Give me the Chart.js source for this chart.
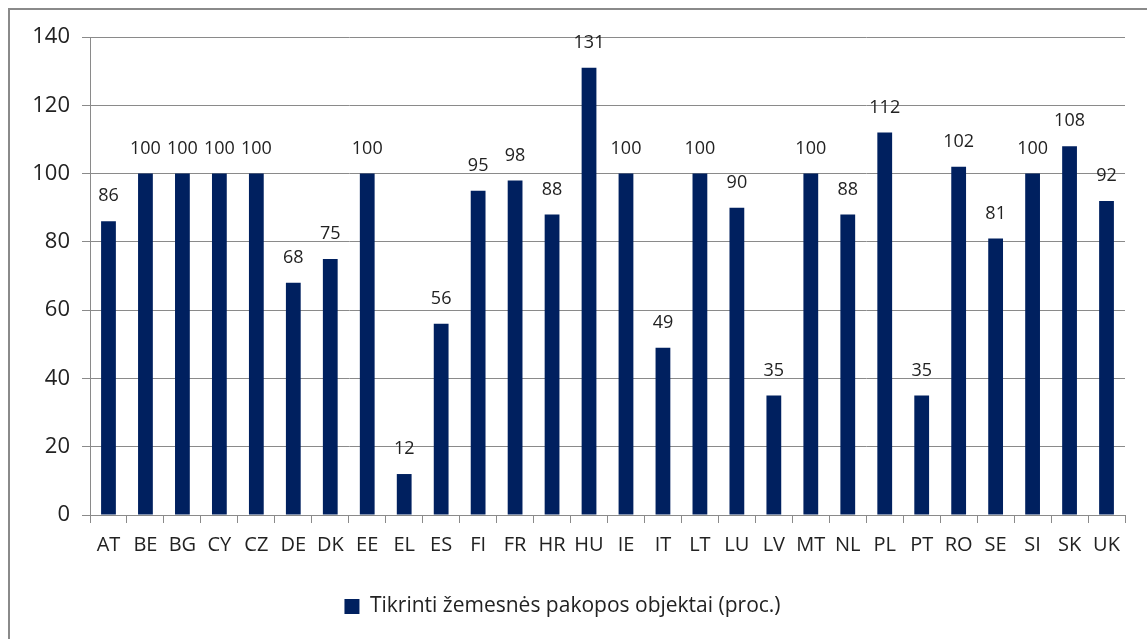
<!DOCTYPE html>
<html>
<head>
<meta charset="utf-8">
<script src="https://cdn.jsdelivr.net/npm/chart.js@4"></script>
<style>
  body{margin:0;background:#fff;}
  #wrap{position:relative;width:1147px;height:639px;}
  #frame{position:absolute;left:8px;top:8px;width:1160px;height:660px;border-left:2px solid #8a8a8a;border-top:2px solid #8a8a8a;pointer-events:none;}
</style>
</head>
<body>
<div id="wrap">
  <canvas id="myChart" width="1147" height="639"></canvas>
  <div id="frame"></div>
</div>
<script>
const countries=['AT','BE','BG','CY','CZ','DE','DK','EE','EL','ES','FI','FR','HR','HU','IE','IT','LT','LU','LV','MT','NL','PL','PT','RO','SE','SI','SK','UK'];
const values=[86,100,100,100,100,68,75,100,12,56,95,98,88,131,100,49,100,90,35,100,88,112,35,102,81,100,108,92];
const seriesName='Tikrinti žemesnės pakopos objektai (proc.)';
const yTicks=[0,20,40,60,80,100,120,140];

const barColor='#00205f';
const textColor='#222222';
const fontFam='"Open Sans", Lato, sans-serif';

// value labels above the bars
const valueLabels={
  id:'valueLabels',
  afterDatasetsDraw(chart){
    const ctx=chart.ctx;
    const meta=chart.getDatasetMeta(0);
    ctx.save();
    ctx.font='18px '+fontFam;
    ctx.fillStyle=textColor;
    ctx.textAlign='center';
    ctx.textBaseline='middle';
    meta.data.forEach((bar,i)=>{
      ctx.fillText(values[i],bar.x,bar.y-25);
    });
    ctx.restore();
  }
};

const ctx=document.getElementById('myChart').getContext('2d');
new Chart(ctx,{
  type:'bar',
  data:{
    labels:countries,
    datasets:[{
      label:seriesName,
      data:values,
      backgroundColor:barColor,
      borderWidth:0,
      barPercentage:0.4,
      categoryPercentage:1
    }]
  },
  options:{
    responsive:false,
    animation:false,
    layout:{padding:{top:37,right:22,bottom:12,left:0}},
    plugins:{
      legend:{
        position:'bottom',
        labels:{
          color:textColor,
          font:{family:fontFam,size:21},
          boxWidth:15,
          boxHeight:15,
          padding:10
        }
      },
      tooltip:{enabled:false}
    },
    scales:{
      x:{
        grid:{display:true,drawOnChartArea:false,offset:true,tickLength:8,color:'#8a8a8a'},
        border:{color:'#8a8a8a'},
        ticks:{color:textColor,font:{family:fontFam,size:20},padding:10,maxRotation:0,autoSkip:false},
        afterFit(scale){scale.height=71;}
      },
      y:{
        min:0,max:140,
        afterBuildTicks(scale){scale.ticks=yTicks.map(v=>({value:v}));},
        grid:{color:'#8a8a8a',tickLength:8},
        border:{color:'#8a8a8a'},
        ticks:{color:textColor,font:{family:fontFam,size:22},padding:12},
        afterFit(scale){scale.width=90;}
      }
    }
  },
  plugins:[valueLabels]
});
</script>
</body>
</html>
